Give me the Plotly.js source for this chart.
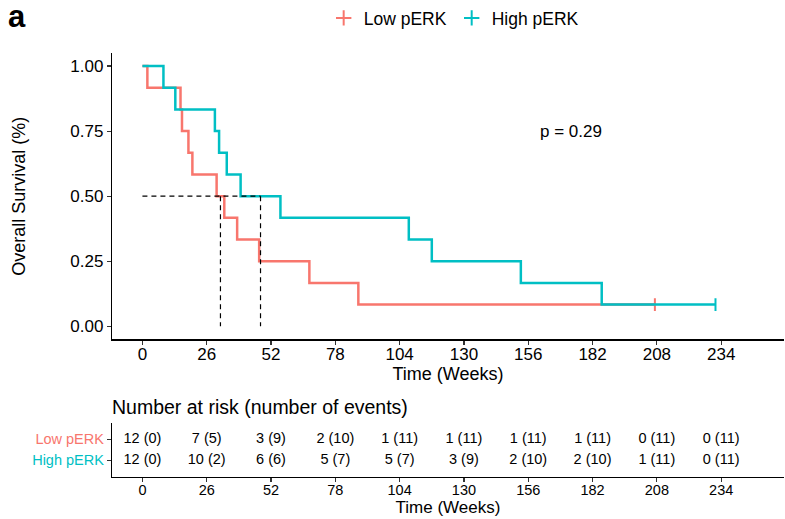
<!DOCTYPE html>
<html>
<head>
<meta charset="utf-8">
<script src="https://cdn.plot.ly/plotly-3.0.1.min.js"></script>
<style>html,body{margin:0;padding:0;background:#fff;}#chart{width:785px;height:519px;}</style>
</head>
<body>
<div id="chart"></div>
<script>
// ---- data ----
var groupNames = ["Low pERK", "High pERK"];
var groupColors = ["#F8766D", "#00BFC4"];
var nPatients = [12, 12];
var lowEventTimes = [2, 15.4, 16, 18.6, 20.2, 30, 33.1, 38.3, 47.2, 67.5, 87.3];
var lowCensorTimes = [207.2];
var highEventTimes = [8.5, 13.3, 29.3, 31, 34.1, 39.7, 55.8, 107.7, 117, 153, 185.7];
var highCensorTimes = [231.7];
var riskTimes = [0, 26, 52, 78, 104, 130, 156, 182, 208, 234];
var lowAtRisk = [12, 7, 3, 2, 1, 1, 1, 1, 0, 0];
var lowEvents = [0, 5, 9, 10, 11, 11, 11, 11, 11, 11];
var highAtRisk = [12, 10, 6, 5, 5, 3, 2, 2, 1, 0];
var highEvents = [0, 2, 6, 7, 7, 9, 10, 10, 11, 11];
var pText = "p = 0.29";

var FONT = "Liberation Sans, Arial, sans-serif";

function kmCurve(n, events, censors) {
  var xs = [0], ys = [1], s = 1, atRisk = n;
  var all = events.map(function (t) { return {t: t, e: 1}; })
    .concat(censors.map(function (t) { return {t: t, e: 0}; }))
    .sort(function (a, b) { return a.t - b.t; });
  var cx = [], cy = [];
  all.forEach(function (d) {
    if (d.e) { s = s * (atRisk - 1) / atRisk; xs.push(d.t); ys.push(s); }
    else { cx.push(d.t); cy.push(s); xs.push(d.t); ys.push(s); }
    atRisk -= 1;
  });
  return {x: xs, y: ys, cx: cx, cy: cy};
}
function median(c) {
  for (var i = 0; i < c.y.length; i++) {
    if (Math.abs(c.y[i] - 0.5) < 1e-9) return (c.x[i] + c.x[i + 1]) / 2;
    if (c.y[i] < 0.5) return c.x[i];
  }
  return null;
}

var curves = [kmCurve(nPatients[0], lowEventTimes, lowCensorTimes),
              kmCurve(nPatients[1], highEventTimes, highCensorTimes)];
var traces = [];
curves.forEach(function (c, i) {
  traces.push({x: c.x, y: c.y, type: "scatter", mode: "lines", line: {shape: "hv", color: groupColors[i], width: 2.5},
    showlegend: false, hoverinfo: "skip", xaxis: "x", yaxis: "y"});
  traces.push({x: c.cx, y: c.cy, type: "scatter", mode: "markers",
    marker: {symbol: "line-ns", size: 9, line: {color: groupColors[i], width: 2}},
    showlegend: false, hoverinfo: "skip", xaxis: "x", yaxis: "y"});
});
// median lines
var meds = curves.map(median);
var mMax = Math.max.apply(null, meds);
traces.push({x: [0, mMax], y: [0.5, 0.5], type: "scatter", mode: "lines",
  line: {color: "#000", width: 1.2, dash: "5px,4px"}, showlegend: false, hoverinfo: "skip"});
meds.forEach(function (m) {
  traces.push({x: [m, m], y: [0.5, 0], type: "scatter", mode: "lines",
    line: {color: "#000", width: 1.2, dash: "5px,4px"}, showlegend: false, hoverinfo: "skip"});
});
// legend entries
groupNames.forEach(function (g, i) {
  traces.push({x: [null], y: [null], type: "scatter", mode: "markers", name: g,
    marker: {symbol: "cross-thin", size: 11, color: groupColors[i], line: {color: groupColors[i], width: 2}}});
});
// risk table
var rows = [{risk: lowAtRisk, ev: lowEvents, y: 1}, {risk: highAtRisk, ev: highEvents, y: 0}];
rows.forEach(function (r) {
  traces.push({x: riskTimes, y: riskTimes.map(function () { return r.y; }),
    text: r.risk.map(function (v, k) { return v + " (" + r.ev[k] + ")"; }),
    type: "scatter", mode: "text", textposition: "middle center",
    textfont: {family: FONT, size: 14.5, color: "#000"}, showlegend: false, hoverinfo: "skip",
    xaxis: "x2", yaxis: "y2"});
});

var xr = [-12.3, 259.4];
var layout = {
  width: 785, height: 519,
  margin: {l: 112, r: 1, t: 52, b: 42},
  paper_bgcolor: "#fff", plot_bgcolor: "#fff",
  font: {family: FONT, color: "#000"},
  showlegend: true,
  legend: {orientation: "h", x: 0.315, xanchor: "left", y: 1.08, yanchor: "middle",
    font: {family: FONT, size: 17.5, color: "#000"}, itemclick: false, tracegroupgap: 0},
  xaxis: {domain: [0, 1], range: xr, tickvals: riskTimes, showline: true, linecolor: "#000", linewidth: 1.2,
    ticks: "outside", ticklen: 4, tickcolor: "#333", tickwidth: 1.1, showgrid: false, zeroline: false,
    tickfont: {size: 17, color: "#000"}, anchor: "y", ticklabelstandoff: -5,
    title: {text: "Time (Weeks)", font: {size: 18}, standoff: 2}},
  yaxis: {domain: [0.3247, 1], range: [-0.05, 1.05], tickvals: [0, 0.25, 0.5, 0.75, 1],
    ticktext: ["0.00", "0.25", "0.50", "0.75", "1.00"], showline: true, linecolor: "#000", linewidth: 1.2,
    ticks: "outside", ticklen: 4, tickcolor: "#333", tickwidth: 1.1, showgrid: false, zeroline: false,
    tickfont: {size: 17, color: "#000"}, anchor: "x",
    title: {text: "Overall Survival (%)", font: {size: 18}, standoff: 40}},
  xaxis2: {domain: [0, 1], range: xr, tickvals: riskTimes, showline: true, linecolor: "#000", linewidth: 1.2,
    ticks: "outside", ticklen: 4, tickcolor: "#333", tickwidth: 1.1, showgrid: false, zeroline: false,
    tickfont: {size: 14.5, color: "#000"}, anchor: "y2", ticklabelstandoff: -5,
    title: {text: "Time (Weeks)", font: {size: 17}, standoff: 1}},
  yaxis2: {domain: [0, 0.127], range: [-0.8, 1.77], tickvals: [0, 1],
    ticktext: ['<span style="color:' + groupColors[1] + '">' + groupNames[1] + '</span>',
               '<span style="color:' + groupColors[0] + '">' + groupNames[0] + '</span>'],
    showline: true, linecolor: "#000", linewidth: 1.2, ticks: "outside", ticklen: 4, tickcolor: "#333",
    tickwidth: 1.1, showgrid: false, zeroline: false, tickfont: {size: 14.5}, anchor: "x2"},
  annotations: [
    {text: "<b>a</b>", xref: "paper", yref: "paper", x: -0.142, y: 1.085, xanchor: "center", yanchor: "middle",
      showarrow: false, font: {family: FONT, size: 31, color: "#000"}},
    {text: pText, xref: "x", yref: "y", x: 173.1, y: 0.749, xanchor: "center", yanchor: "middle",
      showarrow: false, font: {family: FONT, size: 17, color: "#000"}},
    {text: "Number at risk (number of events)", xref: "paper", yref: "paper", x: -0.003, y: 0.1647,
      xanchor: "left", yanchor: "middle", showarrow: false, font: {family: FONT, size: 19.5, color: "#000"}}
  ]
};
Plotly.newPlot("chart", traces, layout, {staticPlot: true, displayModeBar: false});
</script>
</body>
</html>
